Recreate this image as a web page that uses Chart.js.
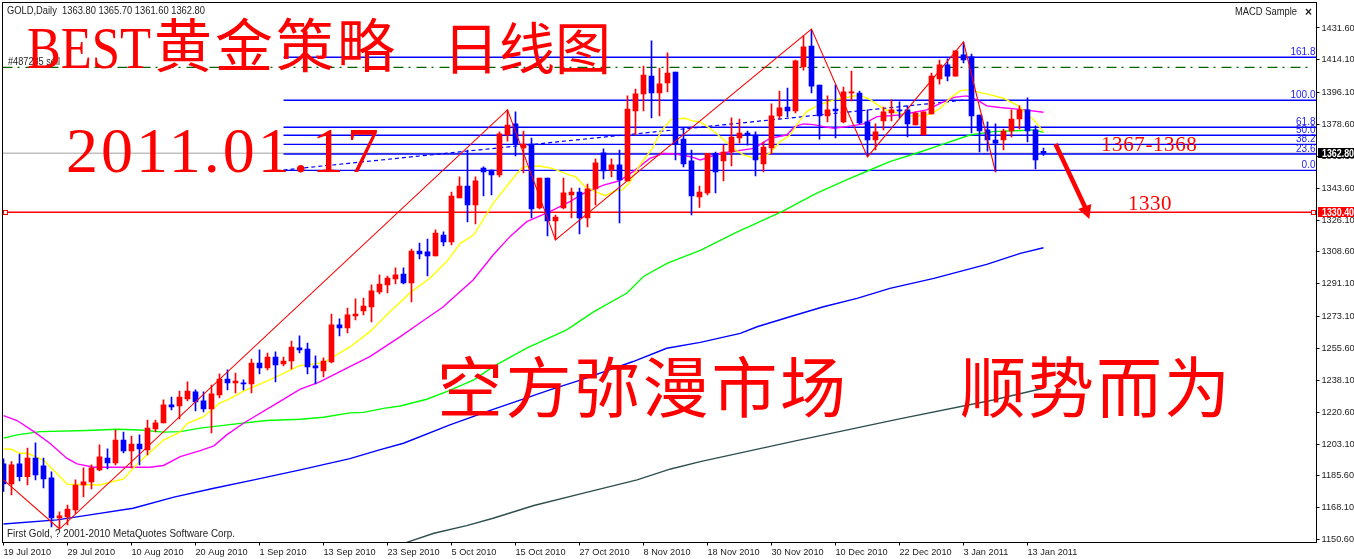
<!DOCTYPE html>
<html>
<head>
<meta charset="utf-8">
<title>GOLD Daily</title>
<style>
  html, body { margin: 0; padding: 0; background: #fff; overflow: hidden; }
  canvas { display: block; }
</style>
<script src="https://cdn.jsdelivr.net/npm/chart.js@4"></script>
</head>
<body>
<canvas id="goldChart" width="1354" height="559"></canvas>
<script>
// one x unit is one daily candle, a date label every 8 candles
const dateLabels = ["19 Jul 2010", "29 Jul 2010", "10 Aug 2010", "20 Aug 2010", "1 Sep 2010", "13 Sep 2010",
  "23 Sep 2010", "5 Oct 2010", "15 Oct 2010", "27 Oct 2010", "8 Nov 2010", "18 Nov 2010", "30 Nov 2010",
  "10 Dec 2010", "22 Dec 2010", "3 Jan 2011", "13 Jan 2011"];
const priceTicks = [1431.6, 1414.1, 1396.1, 1378.6, 1361.1, 1343.6, 1326.1, 1308.6, 1291.1, 1273.1, 1255.6,
  1238.1, 1220.6, 1203.1, 1185.6, 1168.1, 1150.6];

const candleOpen = [
  1192.2,1181.2,1192.2,1185.2,1195.4,1191.1,1184.5,1162.5,1163.0,1166.9,
  1180.6,1182.3,1188.9,1195.4,1192.7,1205.3,1199.3,1203.1,1199.8,1211.4,
  1214.7,1224.6,1224.0,1227.9,1231.7,1226.8,1222.4,1230.0,1238.8,1236.6,
  1236.6,1236.1,1247.6,1244.9,1250.9,1247.1,1248.7,1255.9,1255.3,1246.0,
  1243.2,1248.2,1268.5,1266.8,1273.4,1276.2,1278.4,1286.6,1290.5,1293.8,
  1296.5,1291.6,1309.1,1308.6,1306.4,1317.9,1314.1,1338.2,1344.8,1334.4,
  1354.7,1353.6,1350.9,1372.8,1378.9,1365.7,1367.9,1332.8,1349.2,1325.6,
  1332.8,1339.9,1341.5,1327.3,1343.2,1363.0,1353.6,1356.4,1347.6,1386.0,
  1395.4,1405.2,1395.9,1401.4,1407.4,1370.6,1358.6,1338.8,1341.0,1362.8,
  1358.6,1363.5,1371.2,1373.9,1372.8,1356.9,1365.7,1383.3,1388.2,1386.0,
  1410.2,1421.7,1400.3,1383.3,1387.1,1380.0,1395.9,1395.9,1380.0,1370.1,
  1380.5,1384.9,1386.6,1386.6,1378.3,1372.8,1384.4,1403.6,1411.3,1405.2,
  1416.8,1415.7,1383.8,1375.6,1370.1,1370.1,1375.0,1381.6,1386.6,1375.6,
  1363.8];
const candleHigh = [
  1194.9,1193.4,1197.6,1200.9,1203.7,1195.4,1187.8,1165.8,1169.6,1183.4,
  1190.0,1191.6,1202.6,1200.4,1210.8,1209.7,1207.5,1208.1,1216.3,1216.3,
  1227.3,1228.9,1232.2,1237.2,1232.8,1231.7,1235.5,1241.6,1243.8,1242.1,
  1238.3,1249.8,1254.8,1253.1,1253.7,1250.9,1259.7,1262.5,1258.6,1251.5,
  1250.4,1274.5,1271.8,1277.8,1282.8,1283.3,1290.5,1296.0,1295.4,1299.8,
  1299.8,1310.2,1313.5,1315.7,1320.7,1319.6,1341.5,1349.8,1364.6,1349.8,
  1355.3,1353.6,1374.5,1386.6,1385.5,1375.0,1371.2,1349.2,1349.2,1328.9,
  1349.2,1343.7,1343.7,1345.9,1359.7,1365.2,1359.7,1364.6,1394.3,1398.1,
  1410.7,1424.5,1409.6,1417.9,1407.4,1376.7,1364.6,1344.8,1362.8,1363.4,
  1367.3,1382.2,1381.6,1375.0,1374.5,1369.0,1389.9,1397.0,1398.6,1414.0,
  1427.2,1430.5,1400.3,1394.3,1400.3,1399.2,1408.0,1397.0,1386.6,1378.9,
  1388.2,1392.1,1391.0,1388.8,1385.5,1385.5,1406.9,1414.0,1414.6,1419.0,
  1423.9,1417.3,1383.8,1380.0,1378.9,1376.1,1386.6,1388.8,1393.2,1377.8,
  1365.7];
const candleLow = [
  1177.0,1175.1,1182.8,1180.6,1183.4,1179.0,1157.5,1157.0,1158.6,1165.0,
  1174.0,1178.4,1188.3,1189.4,1191.6,1198.2,1190.0,1191.6,1197.1,1209.7,
  1214.7,1221.8,1216.9,1226.8,1221.3,1220.7,1209.2,1228.4,1232.8,1231.1,
  1232.8,1231.1,1241.6,1243.8,1237.2,1246.0,1244.3,1253.1,1241.6,1236.1,
  1239.9,1247.6,1262.5,1264.1,1271.2,1274.0,1270.1,1285.5,1286.1,1291.0,
  1291.0,1281.1,1304.7,1295.4,1306.4,1311.9,1312.4,1338.2,1325.1,1324.0,
  1339.3,1339.9,1349.8,1369.5,1361.3,1352.0,1327.3,1332.2,1317.4,1315.2,
  1332.2,1327.3,1318.5,1322.3,1334.4,1348.7,1349.8,1324.5,1347.6,1372.8,
  1386.0,1382.2,1383.3,1396.5,1359.1,1355.3,1328.9,1333.0,1339.9,1341.0,
  1347.6,1355.8,1368.4,1367.3,1350.3,1352.5,1362.4,1381.6,1382.7,1384.9,
  1408.5,1395.9,1370.6,1380.0,1371.2,1379.4,1391.5,1378.9,1361.3,1364.6,
  1375.6,1380.5,1382.2,1371.7,1378.3,1372.8,1384.4,1400.8,1402.5,1405.2,
  1412.4,1373.9,1363.5,1364.0,1352.5,1364.6,1371.7,1376.1,1369.0,1354.2,
  1361.6];
const candleClose = [
  1181.2,1191.6,1185.2,1195.4,1186.1,1183.9,1162.5,1163.6,1167.4,1180.6,
  1182.3,1190.0,1196.0,1192.7,1205.3,1199.3,1203.1,1200.4,1211.9,1214.7,
  1224.6,1223.5,1228.9,1232.2,1226.2,1222.4,1230.6,1238.8,1236.6,1237.7,
  1236.1,1247.6,1244.9,1250.9,1246.5,1248.7,1256.4,1254.8,1245.4,1244.9,
  1248.7,1268.5,1266.8,1274.0,1274.5,1278.9,1287.2,1291.0,1294.3,1296.0,
  1291.6,1309.1,1307.5,1306.4,1319.0,1314.1,1339.3,1344.8,1334.4,1347.6,
  1352.5,1350.9,1373.4,1378.3,1367.9,1367.9,1332.2,1349.2,1325.6,1327.8,
  1341.0,1341.5,1327.3,1343.2,1357.5,1353.1,1356.4,1348.1,1387.1,1395.4,
  1405.8,1395.9,1400.9,1406.9,1367.9,1356.9,1339.3,1341.5,1362.8,1352.5,
  1363.5,1371.7,1373.9,1372.8,1359.1,1366.2,1383.3,1387.7,1386.0,1413.5,
  1421.2,1399.7,1383.3,1386.6,1386.0,1396.5,1396.5,1379.4,1370.1,1374.5,
  1385.5,1386.6,1386.0,1378.9,1384.9,1385.5,1405.2,1411.3,1405.2,1419.0,
  1414.0,1383.3,1375.0,1370.1,1368.4,1375.0,1381.6,1386.6,1375.0,1359.1,
  1362.8];

// moving averages as [candle, price]
const maYellow = [[0,1200.4],[1,1200.2],[2,1198],[3,1198],[5,1194.3],[6,1189.8],[8,1181],[12,1180.6],[15,1183.9],[17,1193.4],
  [20,1205.3],[22,1209.5],[23,1214.5],[25,1218.1],[27,1225.5],[28,1227.3],[30,1232.2],[33,1237.8],[35,1241.9],[37,1246.1],
  [40,1247.8],[43.3,1256.4],[45.8,1264.8],[48.3,1275.8],[51,1286.8],[53.3,1294.1],[55.4,1303.3],[57.1,1313.3],[58.8,1318],[61.2,1335.3],
  [64.2,1351.8],[65,1355.4],[67,1355.8],[68.6,1354.5],[70.7,1350.9],[71.5,1349.9],[72.7,1344.4],[74,1341.7],[75.2,1339.5],[76.5,1342.3],
  [77.3,1342.6],[78.2,1346.3],[79.4,1355.4],[81.1,1365.5],[82.3,1375.6],[83.5,1381.4],[85.2,1382],[86,1380.7],[87.1,1380],[88.3,1376.5],
  [89.6,1371.9],[91.2,1365.5],[92.5,1361.9],[94.2,1359.7],[95.8,1362.8],[97.1,1369.2],[98.3,1372.8],[99.6,1381.1],[100.4,1385.7],[101.9,1389.3],
  [103.8,1392.1],[107,1394.8],[108.4,1392.1],[110,1387],[112,1384.7],[113.8,1382.9],[115.8,1384.2],[117.1,1387.5],[118.3,1393],[119.6,1397.2],
  [120.4,1397.6],[122.9,1395.4],[125,1393],[126.7,1389.3],[128.8,1381.1],[130,1374.7]];
const maMagenta = [[0,1218.7],[1.7,1216],[3.8,1209.9],[5.8,1203.5],[7.9,1195.3],[9.2,1192.2],[11.3,1190.3],[18.3,1190.3],[20,1191.3],[22.1,1196.2],
  [24.6,1199.5],[26.3,1202.1],[27.9,1208.1],[30,1214.5],[34.2,1225.5],[37.1,1233.2],[39.4,1237],[43.3,1245.6],[45.8,1251.1],[49.6,1262.1],
  [52,1269.4],[54.9,1278.2],[58.7,1293.2],[61.2,1306.9],[63.3,1317],[65.4,1325.2],[68.3,1330.7],[70.8,1336.2],[72.5,1340.8],[75,1345.3],
  [77,1347.7],[78.7,1352.7],[80.8,1360],[82.5,1362.7],[84,1362.4],[85.9,1360.9],[87.1,1359.1],[89.6,1362.8],[93.8,1365.5],[95.8,1371],
  [97.9,1372.8],[98.9,1377.4],[100,1378.9],[101.3,1378.5],[102.5,1377.4],[103.8,1376.5],[105.4,1377.4],[107.5,1378.9],[109.2,1382.9],[112.1,1383.8],
  [115.4,1386.6],[117.1,1390.2],[118.8,1393.5],[120.4,1394.3],[121.7,1392.1],[122.9,1388.8],[124.6,1387.9],[127.1,1386.9],[130,1385.3]];
const maGreen = [[0,1206.3],[1.7,1208.1],[4.6,1209.9],[10.4,1210.5],[14.2,1211.2],[17.1,1210.8],[20,1209.6],[22.1,1209.9],[24.6,1211.8],[28.8,1214],
  [32.9,1216],[37.1,1216.7],[40,1217.8],[43.3,1220.2],[45,1220.5],[47.5,1222.7],[49.6,1224],[52.9,1227.7],[55.4,1231.9],[58.8,1238.3],
  [61.2,1245.6],[65.4,1255.7],[70.4,1265.8],[73.8,1275.8],[77.9,1285.9],[80,1295.1],[83,1302.4],[87.1,1309.5],[91.6,1319.3],[97.3,1330.7],
  [101.6,1340.8],[105.8,1349],[108.3,1353.6],[110.8,1358.2],[114.1,1362.8],[117.1,1367.3],[120.8,1372.8],[123.7,1374.7],[128.8,1375.6],[130,1374.3]];
const maBlue = [[0,1159.2],[6.7,1161.4],[10.8,1164.2],[16.2,1167.8],[21.3,1173.9],[26.3,1178.8],[31.3,1183.4],[37.1,1188.9],[43.3,1195.1],[47,1199.9],
  [50,1203.5],[55.8,1213.6],[61.2,1222.1],[68.3,1232.8],[72.2,1238.3],[78.7,1248.4],[82.9,1255.7],[87.1,1258.9],[92.1,1263.9],[94.2,1267.5],
  [98.3,1273],[102.5,1278.5],[106.7,1283.1],[110.8,1288.6],[116.3,1294.1],[122.9,1301.8],[127.1,1307.8],[130,1310.9]];
const maBlack = [[50.4,1149.1],[53.8,1154.1],[57.9,1158.3],[61.2,1162.3],[66.3,1169.3],[72.5,1176.1],[79.2,1183.4],[83.4,1189.4],[87.1,1193.4],
  [99,1204.8],[112,1216.9],[123.7,1227.3],[130,1233.7]];

const zigzagIndex = [0, 7, 63, 69, 101, 108, 120, 124];
const zigzagPrice = [1183.4, 1156.4, 1386.6, 1315.2, 1431.0, 1360.8, 1423.9, 1352.5];

const fibNames = ["161.8", "100.0", "61.8", "50.0", "38.2", "23.6", "0.0"];
const fibPrices = [1415.5, 1391.9, 1377.1, 1372.7, 1367.7, 1362.4, 1353.4];
const fibStart = 35;
const trendIndex = [35, 120.3];
const trendPrice = [1353.6, 1392.1];

const lastPrice = 1362.8;
const targetPrice = 1330.4;
const orderPrice = 1410.0;
const arrowIndex = [131.5, 135.6];
const arrowPrice = [1367.9, 1329.4];

const xMin = -0.125, xMax = 164.125, yMin = 1149.0, yMax = 1445.6;
const UI_FONT = '"Liberation Sans", Arial, sans-serif';
const BIG_FONT = '"Liberation Serif", "Noto Sans CJK SC", serif';

const pairs = list => list.map(p => ({ x: p[0], y: p[1] }));
const zip = (xs, ys) => xs.map((x, i) => ({ x: x, y: ys[i] }));
const hline = (price, from, to) => [{ x: from, y: price }, { x: to, y: price }];
const candleColors = candleOpen.map((o, i) => candleClose[i] >= o ? "#ff0000" : "#0000ff");

function lineSet(data, color, width, order, dash) {
  return { type: "line", data: data, borderColor: color, borderWidth: width, pointRadius: 0,
    tension: 0, fill: false, order: order, borderDash: dash || [] };
}

const datasets = [
  { type: "bar", grouped: false, order: 2, barThickness: 5, minBarLength: 1, backgroundColor: candleColors,
    data: candleOpen.map((o, i) => ({ x: i, y: [o, candleClose[i]] })) },
  { type: "bar", grouped: false, order: 3, barThickness: 1, backgroundColor: candleColors,
    data: candleLow.map((l, i) => ({ x: i, y: [l, candleHigh[i]] })) },
  lineSet(zip(zigzagIndex, zigzagPrice), "#ff0000", 1.1, 1),
  lineSet(pairs(maYellow), "#ffff00", 1.4, 4),
  lineSet(pairs(maMagenta), "#ff00ff", 1.4, 4),
  lineSet(pairs(maGreen), "#00ff00", 1.4, 4),
  lineSet(pairs(maBlue), "#0000ff", 1.4, 4),
  lineSet(pairs(maBlack), "#2f4f4f", 1.4, 4),
  lineSet(hline(lastPrice, xMin, xMax), "#c0c0c0", 1.3, 7),
  lineSet(hline(targetPrice, xMin, xMax), "#ff0000", 1.4, 5),
  lineSet(hline(orderPrice, xMin, 163.2), "#006400", 1.3, 6, [10, 5, 2, 6]),
  lineSet(zip(trendIndex, trendPrice), "#0000ff", 1.2, 5, [4, 3])
];
fibPrices.forEach(p => datasets.push(lineSet(hline(p, fibStart, xMax), "#0000ff", 1.4, 5)));
datasets.push(lineSet(zip(arrowIndex, arrowPrice), "#ff0000", 4.5, 0));

function text(ctx, str, x, y, font, color, spacing, maxWidth) {
  ctx.font = font;
  ctx.fillStyle = color;
  ctx.letterSpacing = (spacing || 0) + "px";
  if (maxWidth) ctx.fillText(str, x, y, maxWidth);
  else ctx.fillText(str, x, y);
  ctx.letterSpacing = "0px";
}

function priceBox(ctx, scale, price, color) {
  const y = Math.round(scale.getPixelForValue(price));
  ctx.fillStyle = color;
  ctx.fillRect(1318, y - 5, 36, 10);
  text(ctx, price.toFixed(2), 1322, y + 4, "bold 10.5px " + UI_FONT, "#ffffff", 0, 32);
}

function marker(ctx, x, y) {
  ctx.fillStyle = "#ffffff";
  ctx.strokeStyle = "#ff0000";
  ctx.lineWidth = 1;
  ctx.fillRect(x - 2, y - 2, 4, 4);
  ctx.strokeRect(x - 2, y - 2, 4, 4);
}

const overlay = {
  id: "overlay",
  afterDraw(chart) {
    const ctx = chart.ctx, a = chart.chartArea, xs = chart.scales.x, ys = chart.scales.y;
    ctx.save();
    ctx.textAlign = "left";
    ctx.textBaseline = "alphabetic";

    // frame
    ctx.strokeStyle = "#000";
    ctx.lineWidth = 1;
    ctx.strokeRect(a.left, a.top, a.right - a.left, a.bottom - a.top);

    const targetY = Math.round(ys.getPixelForValue(targetPrice)) + 0.5;
    marker(ctx, 5.5, targetY);
    marker(ctx, 1313.5, targetY);

    // fibonacci level names sit just above their lines
    ctx.textAlign = "right";
    fibPrices.forEach((p, i) => {
      text(ctx, fibNames[i], a.right - 1, ys.getPixelForValue(p) - 2, "10px " + UI_FONT, "#2222ee");
    });
    ctx.textAlign = "left";

    priceBox(ctx, ys, lastPrice, "#000000");
    priceBox(ctx, ys, targetPrice, "#ff0000");

    text(ctx, "GOLD,Daily  1363.80 1365.70 1361.60 1362.80", 7, 14, "10.5px " + UI_FONT, "#222", 0, 198);
    text(ctx, "#487285 sell", 8, 65, "10.5px " + UI_FONT, "#222", 0, 52);
    text(ctx, "MACD Sample", 1235, 15, "10.5px " + UI_FONT, "#222", 0, 62);
    text(ctx, "×", 1305, 16, "bold 12px " + UI_FONT, "#222");
    text(ctx, "First Gold, ? 2001-2010 MetaQuotes Software Corp.", 7, 537, "10.5px " + UI_FONT, "#222", 0, 228);

    // arrow head on the hand drawn target arrow
    const tipX = xs.getPixelForValue(arrowIndex[1]), tipY = ys.getPixelForValue(arrowPrice[1]);
    ctx.fillStyle = "#ff0000";
    ctx.beginPath();
    ctx.moveTo(tipX + 1, tipY + 5);
    ctx.lineTo(tipX - 10, tipY - 5);
    ctx.lineTo(tipX + 3, tipY - 10);
    ctx.closePath();
    ctx.fill();

    // hand written notes
    const red = "#ff0000";
    text(ctx, "BEST", 27, 68, "60px " + BIG_FONT, red, 0, 124);
    text(ctx, "黄金策略", 154, 67, "58px " + BIG_FONT, red, 3);
    text(ctx, "日线图", 443, 69, "56px " + BIG_FONT, red, 0);
    text(ctx, "2011.01.17", 66, 172, "64px " + BIG_FONT, red, 3);
    text(ctx, "1367-1368", 1101, 151, "21px " + BIG_FONT, red, 0.6);
    text(ctx, "1330", 1128, 210, "21px " + BIG_FONT, red, 0.5);
    text(ctx, "空方弥漫市场", 437, 412, "66px " + BIG_FONT, red, 2.6);
    text(ctx, "顺势而为", 960, 412, "66px " + BIG_FONT, red, 2);
    ctx.restore();
  }
};

new Chart(document.getElementById("goldChart"), {
  type: "bar",
  data: { datasets: datasets },
  plugins: [overlay],
  options: {
    responsive: false,
    devicePixelRatio: 1,
    animation: false,
    events: [],
    layout: { padding: { left: 2.5, top: 2.5, right: 0, bottom: 0 } },
    plugins: { legend: { display: false }, tooltip: { enabled: false } },
    scales: {
      x: {
        type: "linear",
        offset: false,
        min: xMin,
        max: xMax,
        grid: { drawOnChartArea: false, color: "#000", tickLength: 3, offset: false },
        border: { display: false },
        afterBuildTicks: s => { s.ticks = dateLabels.map((d, i) => ({ value: i * 8 })); },
        afterFit: s => { s.height = 16.5; s.paddingLeft = 0; s.paddingRight = 0; },
        ticks: {
          autoSkip: false, maxRotation: 0, minRotation: 0, align: "start", padding: 1, color: "#222",
          font: { family: UI_FONT, size: 9.2 },
          callback: v => dateLabels[v / 8]
        }
      },
      y: {
        position: "right",
        min: yMin,
        max: yMax,
        grid: { drawOnChartArea: false, color: "#000", tickLength: 3 },
        border: { display: false },
        afterBuildTicks: s => { s.ticks = priceTicks.map(v => ({ value: v })); },
        afterFit: s => { s.width = 37.5; s.paddingTop = 0; s.paddingBottom = 0; },
        ticks: {
          autoSkip: false, padding: 2, color: "#222",
          font: { family: UI_FONT, size: 9.2 },
          callback: v => v.toFixed(2)
        }
      }
    }
  }
});
</script>
</body>
</html>
